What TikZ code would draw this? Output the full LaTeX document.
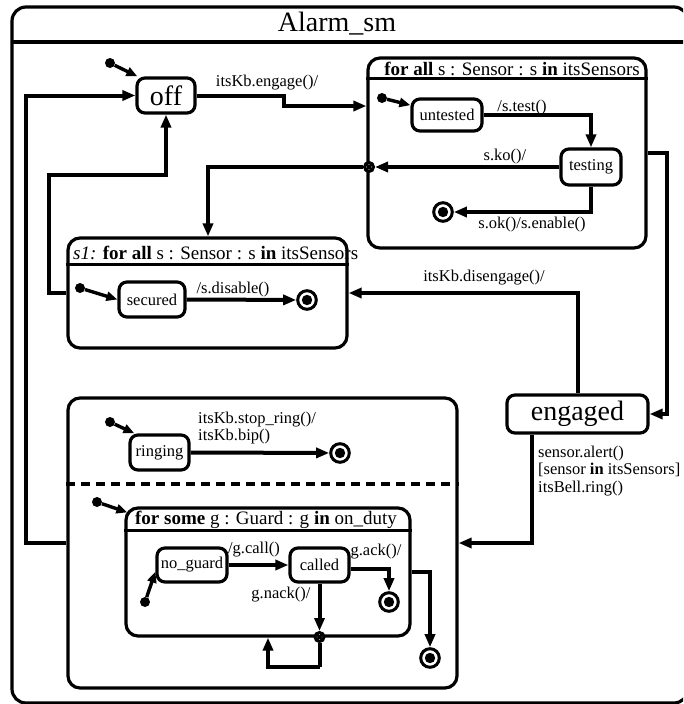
\documentclass[tikz,border=0pt]{standalone}
\usepackage{fontspec}
\setmainfont{Liberation Serif}
\usetikzlibrary{arrows.meta}
\begin{document}
\begin{tikzpicture}[x=1pt,y=-1pt,
  tr/.style={line width=4pt, -{Triangle[length=13pt,width=10pt]}},
  initarr/.style={line width=3.4pt, -{Triangle[length=11pt,width=9pt]}},
  st/.style={draw, line width=3.2pt, rounded corners=8pt, inner sep=0pt, font=\fontsize{16.5}{18}\selectfont},
  bigst/.style={st, font=\fontsize{28}{30}\selectfont},
  comp/.style={draw, line width=3.2pt, rounded corners=12pt, inner sep=0pt},
  lbl/.style={font=\fontsize{16.5}{18}\selectfont, inner sep=0pt},
  hdr/.style={font=\fontsize{19}{21}\selectfont, inner sep=0pt},
  initdot/.style={circle, fill, minimum size=10pt, inner sep=0pt},
  final/.style={circle, draw, line width=3pt, minimum size=18.6pt, inner sep=0pt,
    path picture={\fill (path picture bounding box.center) circle (5.2pt);}},
  junc/.style={circle, draw, fill=white, line width=3pt, minimum size=9pt, inner sep=0pt,
    path picture={\draw[line width=2.6pt] (path picture bounding box.north west) -- (path picture bounding box.south east)
      (path picture bounding box.north east) -- (path picture bounding box.south west);}}
]
\useasboundingbox (0,0) rectangle (683,704);
\clip (0,0) rectangle (683,704);
\fill[white] (0,0) rectangle (683,704);

% outer frame
\draw[line width=3.2pt, rounded corners=14pt] (12,7) rectangle (688,703);
\draw[line width=3.2pt] (12,42) -- (688,42);
\node[font=\fontsize{28}{30}\selectfont, inner sep=0pt] (title) at (337,24) {Alarm\_sm};

% composite states
\node[comp, minimum width=278pt, minimum height=190pt] (forall) at (507,153) {};
\draw[line width=3.2pt] ([yshift=-22pt]forall.north west) -- ([yshift=-22pt]forall.north east);
\node[hdr] (forallT) at (512,69) {\textbf{for all} s : Sensor : s \textbf{in} itsSensors};

\node[comp, minimum width=279pt, minimum height=110pt] (s1) at (207.5,293) {};
\draw[line width=3.2pt] ([yshift=-28pt]s1.north west) -- ([yshift=-28pt]s1.north east);
\node[hdr, anchor=west] (s1T) at (73,253) {\textit{s1:} \textbf{for all} s : Sensor : s \textbf{in} itsSensors};

\node[comp, minimum width=389pt, minimum height=290pt] (bot) at (262.5,543) {};
\draw[line width=3.2pt, dash pattern=on 9pt off 6pt] (bot.west |- 0,484) coordinate (dl) -- (bot.east |- dl);

\node[comp, minimum width=284pt, minimum height=128pt] (forsome) at (268,572) {};
\draw[line width=3.2pt] ([yshift=-24pt]forsome.north west) -- ([yshift=-24pt]forsome.north east);
\node[hdr] (forsomeT) at (266,520) {\textbf{for some} g : Guard : g \textbf{in} on\_duty};

% simple states
\node[bigst, minimum width=58pt, minimum height=35pt] (off) at (166,95.5) {off};
\node[st, minimum width=70pt, minimum height=32pt] (untested) at (447,115) {untested};
\node[st, minimum width=60pt, minimum height=36pt] (testing) at (591,167) {testing};
\node[st, minimum width=66pt, minimum height=35pt] (secured) at (152,299.5) {secured};
\node[bigst, minimum width=141pt, minimum height=38pt] (engaged) at (577.5,414) {engaged};
\node[st, minimum width=59pt, minimum height=35pt] (ringing) at (159.5,452.5) {ringing};
\node[st, minimum width=70pt, minimum height=34pt] (noguard) at (192,565) {no\_guard};
\node[st, minimum width=59pt, minimum height=34pt] (called) at (319.5,565) {called};

% pseudo states
\node[initdot] (i0) at (110,63) {};
\node[initdot] (i1) at (382,98) {};
\node[initdot] (i2) at (80,288) {};
\node[initdot] (i3) at (110,422) {};
\node[initdot] (i4) at (97,502) {};
\node[initdot] (i5) at (145,602) {};
\node[final] (f1) at (443,212) {};
\node[final] (f2) at (307,300) {};
\node[final] (f3) at (340,453) {};
\node[final] (f4) at (389,602) {};
\node[final] (f5) at (430,658) {};
\node[junc] (j1) at (369,167) {};
\node[junc] (j2) at (319.5,637) {};

\coordinate (b1) at (208,0);
\coordinate (b2) at (49,175);
\coordinate (c106) at (0,106);

% transitions
\draw[initarr] (i0) -- ([xshift=2pt]off.north west);
\draw[tr] (off.east) -- ++(87,0) |- (forall.west |- c106);
\node[lbl] (lEng) at (267,83) {itsKb.engage()/};

\draw[initarr] (i1) -- (untested.165);
\draw[tr] (untested.east) -| (testing.north);
\node[lbl] (lTest) at (522,108) {/s.test()};
\draw[tr] (testing.west) -- (j1);
\node[lbl] (lKo) at (505,157) {s.ko()/};
\draw[tr] (testing.south) |- (f1);
\node[lbl] (lOk) at (532,225) {s.ok()/s.enable()};
\draw[tr] (j1) -| (s1.north -| b1);

\draw[initarr] (i2) -- (secured.west);
\draw[tr] (secured.east) -- (f2);
\node[lbl] (lDis) at (233,290) {/s.disable()};
\draw[tr] (s1.west) -| (b2) -| (off.south);

\draw[tr] (forall.east) -- ++(19,0) |- (engaged.east);
\draw[tr] (engaged.north) |- (s1.east);
\node[lbl] (lDiseng) at (484,278) {itsKb.disengage()/};
\draw[tr] ([xshift=-45.5pt]engaged.south) |- (bot.east);
\node[lbl, anchor=west, align=left, font=\fontsize{16.5}{17.5}\selectfont] (lAlert) at (538,471)
  {sensor.alert()\\{}[sensor \textbf{in} itsSensors]\\itsBell.ring()};

\draw[tr] (bot.west) -- ++(-40,0) |- (off.west);

\draw[initarr] (i3) -- ([xshift=6pt]ringing.north west);
\draw[tr] (ringing.east) -- (f3);
\node[lbl, anchor=west, align=left, font=\fontsize{16.5}{17}\selectfont] (lRing) at (198,428.5)
  {itsKb.stop\_ring()/\\itsKb.bip()};

\draw[initarr] (i4) -- ([xshift=3pt,yshift=-6pt]forsome.north west);
\draw[initarr] (i5) -- ([yshift=12pt]noguard.south west);
\draw[tr] (noguard.east) -- (called.west);
\node[lbl] (lCall) at (254,550) {/g.call()};
\draw[tr] ([yshift=-4pt]called.east) -| (f4);
\node[lbl] (lAck) at (376,552) {g.ack()/};
\draw[tr] (called.south) -- (j2);
\node[lbl] (lNack) at (281,595) {g.nack()/};
\draw[line width=4pt] (j2) -- ++(0,30) coordinate (b3);
\draw[tr] (b3) -| (forsome.south);
\draw[tr] (forsome.east) -| (f5);
\end{tikzpicture}
\end{document}
